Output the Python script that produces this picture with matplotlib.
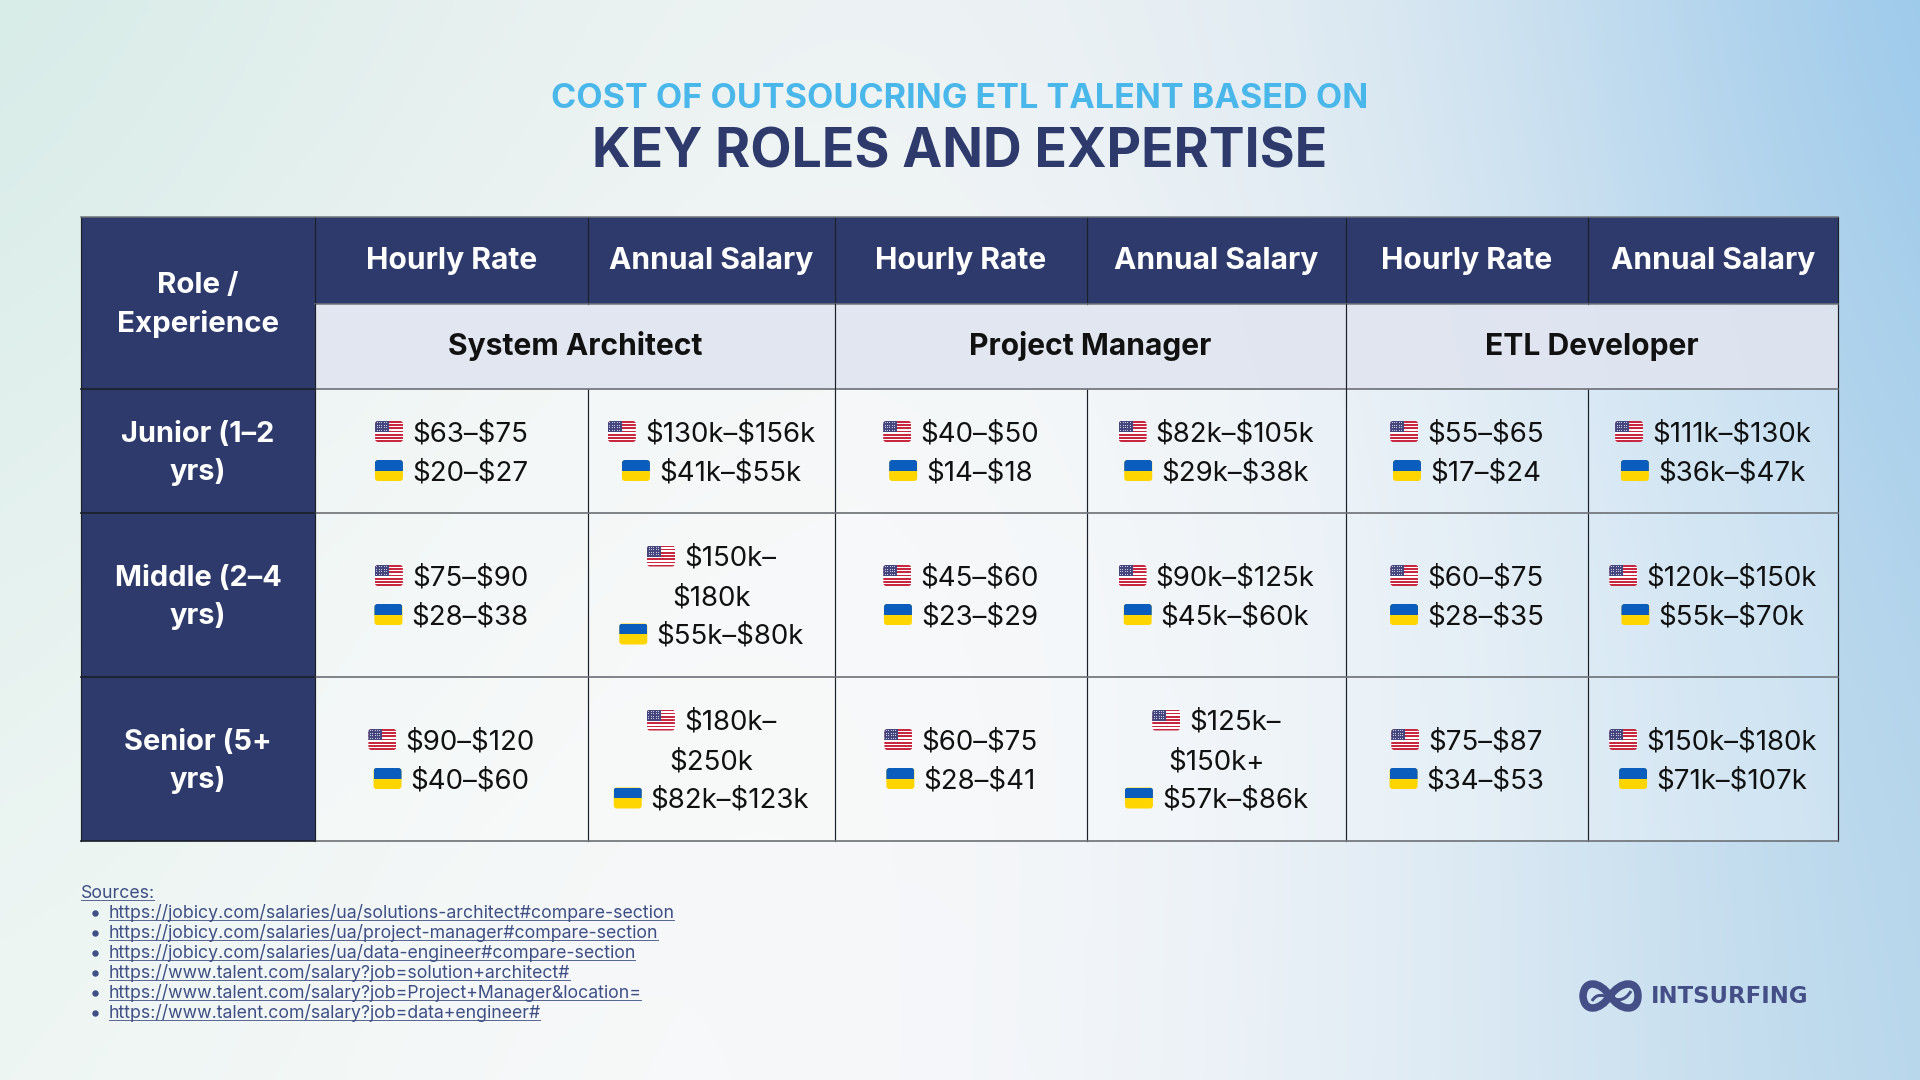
"""Outsourcing cost table for ETL roles, drawn in pixel coordinates."""

import numpy as np
import matplotlib
matplotlib.use("Agg")
import matplotlib.pyplot as plt
from matplotlib.colors import to_rgb
from matplotlib.patches import FancyBboxPatch, PathPatch, Rectangle
from matplotlib.path import Path

plt.rcParams["font.family"] = ["Inter", "Open Sans", "DejaVu Sans"]
plt.rcParams["text.parse_math"] = False

TITLE_TOP = "COST OF OUTSOUCRING ETL TALENT BASED ON"
TITLE_MAIN = "KEY ROLES AND EXPERTISE"

ROLES = ["System Architect", "Project Manager", "ETL Developer"]
LEVELS = ["Junior (1–2\nyrs)", "Middle (2–4\nyrs)", "Senior (5+\nyrs)"]
COLUMN_HEADS = ["Hourly Rate", "Annual Salary"] * 3

# one list per table column, rows are junior / middle / senior
arch_hourly_us = ["$63–$75", "$75–$90", "$90–$120"]
arch_hourly_ua = ["$20–$27", "$28–$38", "$40–$60"]
arch_annual_us = ["$130k–$156k", "$150k–\n$180k", "$180k–\n$250k"]
arch_annual_ua = ["$41k–$55k", "$55k–$80k", "$82k–$123k"]
pm_hourly_us = ["$40–$50", "$45–$60", "$60–$75"]
pm_hourly_ua = ["$14–$18", "$23–$29", "$28–$41"]
pm_annual_us = ["$82k–$105k", "$90k–$125k", "$125k–\n$150k+"]
pm_annual_ua = ["$29k–$38k", "$45k–$60k", "$57k–$86k"]
etl_hourly_us = ["$55–$65", "$60–$75", "$75–$87"]
etl_hourly_ua = ["$17–$24", "$28–$35", "$34–$53"]
etl_annual_us = ["$111k–$130k", "$120k–$150k", "$150k–$180k"]
etl_annual_ua = ["$36k–$47k", "$55k–$70k", "$71k–$107k"]

US_COLUMNS = [arch_hourly_us, arch_annual_us, pm_hourly_us,
              pm_annual_us, etl_hourly_us, etl_annual_us]
UA_COLUMNS = [arch_hourly_ua, arch_annual_ua, pm_hourly_ua,
              pm_annual_ua, etl_hourly_ua, etl_annual_ua]

SOURCES = [
    "https://jobicy.com/salaries/ua/solutions-architect#compare-section",
    "https://jobicy.com/salaries/ua/project-manager#compare-section",
    "https://jobicy.com/salaries/ua/data-engineer#compare-section",
    "https://www.talent.com/salary?job=solution+architect#",
    "https://www.talent.com/salary?job=Project+Manager&location=",
    "https://www.talent.com/salary?job=data+engineer#",
]

# layout, in reference pixels
COL_X = [81, 315, 588, 835, 1087, 1346, 1588, 1838]
ROW_Y = [217, 304, 389, 513, 677, 841]
GROUP_SPANS = [(1, 3), (3, 5), (5, 7)]
LINE_H = 39

NAVY = "#2d3a6b"
SUBHEAD = "#e1e5f0"
EDGE_DARK = "#1c2029"
EDGE_GREY = "#6f7378"
INK = "#111111"
LINK = "#3f4f85"

# background colours at evenly spaced points across the picture
BG_GRID = [
    ["#d2eae5", "#e6f0ef", "#eff3f4", "#dbe8f1", "#8fc3ea"],
    ["#e3f1ee", "#f3f6f6", "#f9f9f9", "#e6eef5", "#a8cfea"],
    ["#eef6f3", "#f7f9f9", "#f8f8fb", "#e2edf5", "#b3d4ea"],
]


def pt(px):
    """Pixel size to points at dpi 100."""
    return px * 72 / 100


def draw_background(ax):
    grid = np.array([[to_rgb(c) for c in row] for row in BG_GRID])
    ax.imshow(grid, extent=(-240, 2160, 1350, -270), aspect="auto",
              interpolation="bicubic", zorder=0)


def draw_us_flag(ax, x, y):
    w, h = 28, 21
    box = FancyBboxPatch((x + 2, y - h / 2 + 2), w - 4, h - 4,
                         boxstyle="round,pad=2,rounding_size=3",
                         fc="white", ec="none", zorder=3)
    ax.add_patch(box)
    for i in range(0, 13, 2):
        s = Rectangle((x, y - h / 2 + i * h / 13), w, h / 13,
                      fc="#c8283f", ec="none", zorder=3.1)
        ax.add_patch(s)
        s.set_clip_path(box)
    canton = Rectangle((x, y - h / 2), w * 0.5, h * 0.54,
                       fc="#46467f", ec="none", zorder=3.2)
    ax.add_patch(canton)
    canton.set_clip_path(box)
    for row in range(4):
        for col in range(5):
            star = Rectangle((x + 1.5 + col * 2.4, y - h / 2 + 1.4 + row * 2.4),
                             1, 1, fc="#c9c9e0", ec="none", zorder=3.3)
            ax.add_patch(star)


def draw_ua_flag(ax, x, y):
    w, h = 28, 21
    box = FancyBboxPatch((x + 2, y - h / 2 + 2), w - 4, h - 4,
                         boxstyle="round,pad=2,rounding_size=3",
                         fc="#ffd500", ec="none", zorder=3)
    ax.add_patch(box)
    blue = Rectangle((x, y - h / 2), w, h / 2, fc="#0a5cbd", ec="none", zorder=3.1)
    ax.add_patch(blue)
    blue.set_clip_path(box)


def text_width(ax, artist):
    return artist.get_window_extent(ax.figure.canvas.get_renderer()).width


def draw_value_line(ax, label, cx, y, flag=None):
    """One line of a cell, with the flag in front of the text if any."""
    t = ax.text(cx, y + 10, label, fontsize=pt(27.6), color=INK,
                ha="center", va="baseline", zorder=4)
    if flag is None:
        return
    tw = text_width(ax, t)
    total = 28 + 9 + tw
    left = cx - total / 2
    t.set_x(left + 37 + tw / 2)
    flag(ax, left, y)


def draw_value_cell(ax, us_label, ua_label, cx, cy):
    us_lines = us_label.split("\n")
    ua_lines = ua_label.split("\n")
    n = len(us_lines) + len(ua_lines)
    y = cy - (n - 1) * LINE_H / 2
    for i, line in enumerate(us_lines):
        draw_value_line(ax, line, cx, y, draw_us_flag if i == 0 else None)
        y += LINE_H
    for i, line in enumerate(ua_lines):
        draw_value_line(ax, line, cx, y, draw_ua_flag if i == 0 else None)
        y += LINE_H


def draw_head_text(ax, label, cx, cy, color="white", size=30):
    lines = label.split("\n")
    y = cy - (len(lines) - 1) * LINE_H / 2
    for line in lines:
        ax.text(cx, y + 10, line, color=color, fontsize=pt(size),
                fontweight="bold", ha="center", va="baseline", zorder=4)
        y += LINE_H


def draw_table(ax):
    x0, x1 = COL_X[0], COL_X[-1]
    head_top, head_bot, sub_bot = ROW_Y[0], ROW_Y[1], ROW_Y[2]
    bottom = ROW_Y[-1]

    ax.add_patch(Rectangle((COL_X[1], sub_bot), x1 - COL_X[1], bottom - sub_bot,
                           fc="white", alpha=0.28, ec="none", zorder=1))
    ax.add_patch(Rectangle((x0, head_top), COL_X[1] - x0, bottom - head_top,
                           fc=NAVY, ec="none", zorder=1))
    ax.add_patch(Rectangle((COL_X[1], head_top), x1 - COL_X[1], head_bot - head_top,
                           fc=NAVY, ec="none", zorder=1))
    ax.add_patch(Rectangle((COL_X[1], head_bot), x1 - COL_X[1], sub_bot - head_bot,
                           fc=SUBHEAD, alpha=0.9, ec="none", zorder=1))

    # grid lines
    for i, x in enumerate(COL_X):
        if i in (2, 4, 6):
            ax.plot([x, x], [head_top, head_bot], color=EDGE_DARK, lw=pt(1.2), zorder=2)
            ax.plot([x, x], [sub_bot, bottom], color=EDGE_DARK, lw=pt(1.2), zorder=2)
        else:
            ax.plot([x, x], [head_top, bottom], color=EDGE_DARK, lw=pt(1.2), zorder=2)
    ax.plot([x0, x1], [head_top, head_top], color=EDGE_GREY, lw=pt(1.5), zorder=2)
    ax.plot([COL_X[1], x1], [head_bot, head_bot], color=EDGE_GREY, lw=pt(1.5), zorder=2)
    for y in ROW_Y[2:]:
        ax.plot([COL_X[1], x1], [y, y], color=EDGE_GREY, lw=pt(1.7), zorder=2)
        ax.plot([x0, COL_X[1]], [y, y], color=EDGE_DARK, lw=pt(1.7), zorder=2)
    for (a, b) in GROUP_SPANS:
        ax.plot([COL_X[a], COL_X[a]], [head_bot, sub_bot], color=EDGE_DARK, lw=pt(1.0), zorder=2)

    # header text
    draw_head_text(ax, "Role /\nExperience", (x0 + COL_X[1]) / 2, 303, size=29.5)
    for i, head in enumerate(COLUMN_HEADS):
        draw_head_text(ax, head, (COL_X[i + 1] + COL_X[i + 2]) / 2, 259)
    for role, (a, b) in zip(ROLES, GROUP_SPANS):
        draw_head_text(ax, role, (COL_X[a] + COL_X[b]) / 2, 345, color=INK)

    # body
    for r, level in enumerate(LEVELS):
        cy = (ROW_Y[r + 2] + ROW_Y[r + 3]) / 2
        draw_head_text(ax, level, (x0 + COL_X[1]) / 2, cy, size=29)
        for c in range(6):
            cx = (COL_X[c + 1] + COL_X[c + 2]) / 2
            draw_value_cell(ax, US_COLUMNS[c][r], UA_COLUMNS[c][r], cx, cy)


def underline(ax, t, y):
    width = text_width(ax, t)
    x = t.get_position()[0]
    ax.plot([x, x + width - 1], [y, y], color=LINK, lw=pt(1.0), alpha=0.85, zorder=4)


def draw_sources(ax):
    t = ax.text(81, 897.5, "Sources:", color=LINK, fontsize=pt(17.7),
                ha="left", va="baseline", zorder=4)
    underline(ax, t, 900)
    for i, url in enumerate(SOURCES):
        y = 917.5 + i * 20
        ax.plot([95], [y - 5], marker="o", ms=pt(5), color=LINK, zorder=4)
        t = ax.text(109, y, url, color=LINK, fontsize=pt(17.7),
                    ha="left", va="baseline", zorder=4)
        underline(ax, t, y + 2.5)


def draw_logo(ax):
    color = "#434f86"
    verts = [(1610, 996), (1600, 981), (1584, 979), (1583, 996),
             (1584, 1013), (1600, 1011), (1610, 996),
             (1620, 981), (1638, 979), (1638, 996),
             (1638, 1013), (1620, 1011), (1610, 996)]
    codes = [Path.MOVETO] + [Path.CURVE4] * 12
    ax.add_patch(PathPatch(Path(verts, codes), fc="none", ec=color, lw=pt(7.5), zorder=4))
    swoosh = Path([(1592, 1001), (1602, 984), (1618, 1013), (1631, 991)],
                  [Path.MOVETO] + [Path.CURVE4] * 3)
    ax.add_patch(PathPatch(swoosh, fc="none", ec=color, lw=pt(3), zorder=4))
    ax.text(1651, 1003, "INTSURFING", color=color, family="DejaVu Sans",
            fontweight="bold", fontsize=pt(22.8), ha="left", va="baseline", zorder=4)


def main():
    fig = plt.figure(figsize=(19.2, 10.8), dpi=100)
    ax = fig.add_axes([0, 0, 1, 1])
    draw_background(ax)
    ax.set_xlim(0, 1920)
    ax.set_ylim(1080, 0)
    ax.axis("off")

    ax.text(960, 107.5, TITLE_TOP, color="#4ab7ea", fontsize=pt(34.2),
            fontweight="bold", ha="center", va="baseline", zorder=4)
    ax.text(960, 168, TITLE_MAIN, color=NAVY, fontsize=pt(53.6),
            fontweight="bold", ha="center", va="baseline", zorder=4)

    draw_table(ax)
    draw_sources(ax)
    draw_logo(ax)

    fig.savefig("out.png", dpi=100)
    plt.close(fig)


if __name__ == "__main__":
    main()
